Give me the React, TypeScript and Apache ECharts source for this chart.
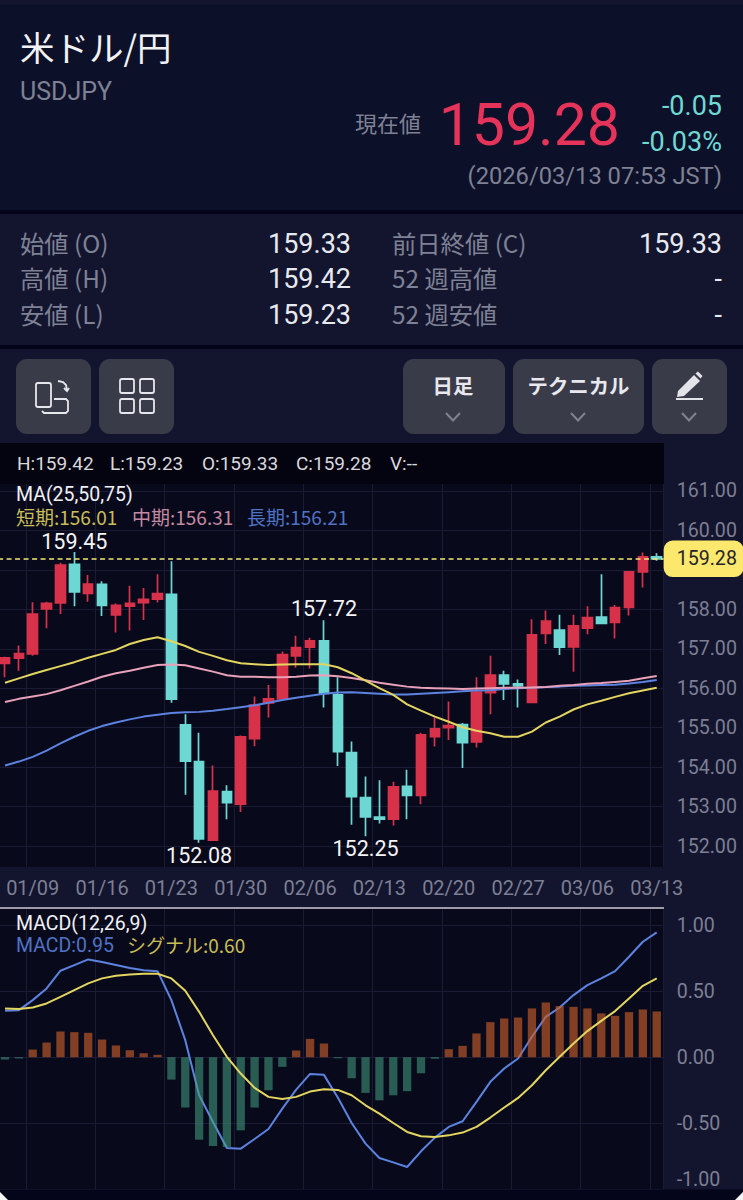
import React, { useEffect, useRef } from "react";
import * as echarts from "echarts";

const dates = ["01/07","01/08","01/09","01/12","01/13","01/14","01/15","01/16","01/19","01/20","01/21","01/22","01/23","01/26","01/27","01/28","01/29","01/30","02/02","02/03","02/04","02/05","02/06","02/09","02/10","02/11","02/12","02/13","02/16","02/17","02/18","02/19","02/20","02/23","02/24","02/25","02/26","02/27","03/02","03/03","03/04","03/05","03/06","03/09","03/10","03/11","03/12","03/13"];
const shownDates = ["01/09","01/16","01/23","01/30","02/06","02/13","02/20","02/27","03/06","03/13"];
// [open, close, low, high]
const candles = [
  [156.63,156.77,156.28,156.80],[156.76,156.88,156.44,157.08],[156.87,157.88,156.82,158.18],[158.01,158.15,157.52,158.19],
  [158.16,159.12,157.88,159.18],[159.14,158.44,158.08,159.45],[158.40,158.64,158.19,158.87],[158.63,158.10,157.83,158.71],
  [157.86,158.10,157.41,158.15],[158.08,158.15,157.46,158.60],[158.17,158.25,157.73,158.54],[158.26,158.40,158.17,158.89],
  [158.38,155.72,155.63,159.22],[155.07,154.15,153.30,155.34],[154.14,152.18,152.08,154.87],[152.15,153.39,152.15,154.04],
  [153.38,153.10,152.68,153.54],[153.06,154.77,152.86,154.80],[154.72,155.57,154.53,155.79],[155.63,155.73,155.26,156.08],
  [155.73,156.85,155.72,156.93],[156.82,157.03,156.52,157.33],[157.04,157.20,156.50,157.28],[157.20,155.87,155.51,157.72],
  [155.83,154.39,154.03,156.28],[154.37,153.25,152.54,154.65],[153.23,152.74,152.25,153.76],[152.73,152.68,152.57,153.67],
  [152.68,153.50,152.52,153.63],[153.51,153.28,152.68,153.93],[153.28,154.82,153.06,154.87],[154.77,154.97,154.52,155.26],
  [155.00,155.05,154.69,155.66],[155.08,154.62,153.98,155.12],[154.64,155.90,154.50,156.28],[155.89,156.33,155.34,156.82],
  [156.33,156.11,155.70,156.44],[156.11,156.06,155.51,156.22],[155.64,157.35,155.62,157.75],[157.39,157.70,157.12,157.97],
  [157.47,157.04,156.84,157.86],[157.05,157.58,156.42,157.86],[157.52,157.79,157.37,158.08],[157.80,157.64,157.62,158.89],
  [157.67,158.04,157.26,158.11],[158.05,158.95,157.84,158.97],[158.95,159.33,158.55,159.44],[159.33,159.28,159.23,159.42],
];
const maShort = [156.14,156.25,156.36,156.46,156.56,156.66,156.77,156.87,156.97,157.12,157.22,157.29,157.19,157.07,156.92,156.82,156.71,156.63,156.61,156.59,156.60,156.61,156.61,156.61,156.53,156.38,156.19,156.00,155.83,155.59,155.43,155.28,155.15,155.01,154.92,154.86,154.77,154.77,154.90,155.13,155.28,155.46,155.59,155.68,155.78,155.87,155.94,156.01];
const maMid = [155.65,155.73,155.79,155.85,155.95,156.06,156.17,156.29,156.38,156.44,156.52,156.59,156.60,156.58,156.50,156.42,156.33,156.29,156.29,156.28,156.28,156.29,156.32,156.33,156.30,156.26,156.20,156.14,156.09,156.04,156.01,156.00,155.99,155.98,155.99,156.00,156.01,156.01,156.02,156.03,156.06,156.08,156.11,156.13,156.16,156.19,156.25,156.31];
const maLong = [154.04,154.14,154.26,154.42,154.60,154.77,154.92,155.04,155.13,155.21,155.28,155.33,155.37,155.39,155.40,155.43,155.47,155.52,155.57,155.63,155.70,155.76,155.81,155.86,155.89,155.90,155.88,155.86,155.84,155.84,155.86,155.88,155.90,155.92,155.94,155.95,155.98,156.00,156.01,156.03,156.04,156.06,156.07,156.08,156.09,156.12,156.16,156.21];
const macdLine = [.352,.357,.433,.522,.656,.699,.742,.722,.699,.676,.659,.653,.433,.129,-.289,-.491,-.689,-.694,-.621,-.545,-.390,-.246,-.127,-.134,-.306,-.499,-.656,-.765,-.798,-.833,-.714,-.610,-.529,-.486,-.339,-.187,-.086,-.010,.155,.306,.377,.471,.547,.598,.653,.762,.876,.947];
const signalLine = [.370,.365,.377,.408,.458,.509,.560,.598,.618,.628,.633,.633,.598,.504,.344,.167,.003,-.124,-.233,-.301,-.317,-.301,-.261,-.243,-.248,-.289,-.365,-.428,-.499,-.567,-.600,-.605,-.593,-.572,-.529,-.458,-.382,-.309,-.213,-.099,.003,.104,.198,.276,.350,.446,.542,.598];
const histogram = [-.018,-.01,.058,.111,.195,.190,.185,.134,.089,.053,.030,.018,-.170,-.382,-.626,-.674,-.681,-.555,-.382,-.251,-.073,.051,.139,.104,-.008,-.160,-.271,-.327,-.289,-.258,-.122,-.012,.061,.086,.180,.266,.294,.301,.370,.415,.388,.382,.370,.332,.314,.342,.362,.347];
const priceTicks = [152,153,154,155,156,157,158,159,160,161];
const priceLabels = [152,153,154,155,156,157,158,160,161];
const macdTicks = [-1,-0.5,0,0.5,1];
const lastPrice = 159.28;
const extremes: [string, number, "top" | "bottom", number][] = [
  ["01/14", 159.45, "top", 0],
  ["01/27", 152.08, "bottom", 2],
  ["02/09", 157.72, "top", 1],
  ["02/12", 152.25, "bottom", 2],
];

const FONT = "Roboto, 'Noto Sans CJK JP', sans-serif";
const CJK = "'Noto Sans CJK JP', Roboto, sans-serif";
const UP = "#d8324b";
const DOWN = "#6dd8d3";
const GRID = "#1a1c36";
const AXIS_TEXT = "#7d7f92";
// The plot starts just outside the page's left edge, so the chart's canvas reaches further left.
const BLEED = 10;

function t(x: number, y: number, text: string, size: number, fill: string, align = "left", family = FONT, weight: any = 400) {
  return { type: "text", x, y, z: 100, silent: true, style: { text, fontSize: size, fontFamily: family, fontWeight: weight, fill, align, verticalAlign: "middle" } };
}
function r(x: number, y: number, width: number, height: number, fill: string, radius = 0, z = -10) {
  return { type: "rect", z, silent: true, shape: { x, y, width, height, r: radius }, style: { fill } };
}
function outline(x: number, y: number, width: number, height: number, radius = 2) {
  return { type: "rect", z: 100, silent: true, shape: { x, y, width, height, r: radius }, style: { fill: "none", stroke: "#e6e6ec", lineWidth: 1.8 } };
}
function pl(points: number[][], stroke: string, lineWidth = 2) {
  return { type: "polyline", z: 100, silent: true, shape: { points }, style: { fill: "none", stroke, lineWidth } };
}

function buildGraphic() {
  const gray = "#7f8194";
  const white = "#e8e9ee";
  const chev = (cx: number) => pl([[cx - 7, 413], [cx, 420.5], [cx + 7, 413]], "#80828e", 2);
  return [
    r(-BLEED, 0, 743 + BLEED, 1200, "#13152f", 0, -20),
    r(0, 5, 743, 205, "#0d1029"),
    r(0, 210, 743, 4, "#03041a"),
    r(0, 345, 743, 4, "#03041a"),
    r(0, 443, 664, 41, "#03040f"),
    r(0, 907, 664, 2, "#9c9ca8", 0, 50),
    r(0, 1189.5, 743, 10.5, "#04051a", 0, 60),
    { type: "polygon", z: 61, silent: true, shape: { points: [[0, 1192], [0, 1200], [8, 1200]] }, style: { fill: "#f4f4f4" } },
    { type: "polygon", z: 61, silent: true, shape: { points: [[743, 1192], [743, 1200], [735, 1200]] }, style: { fill: "#f4f4f4" } },

    t(20, 45.5, "米ドル/円", 34.5, "#f2f2f4", "left", CJK),
    t(20, 91, "USDJPY", 25, gray),
    t(421, 122, "現在値", 22, gray, "right", CJK),
    t(620, 124, "159.28", 59, "#e5335a", "right"),
    t(722, 106, "-0.05", 27, "#6fd8d3", "right"),
    t(722, 142, "-0.03%", 27, "#6fd8d3", "right"),
    t(722, 176, "(2026/03/13 07:53 JST)", 23.7, gray, "right"),

    t(20, 242.5, "始値 (O)", 24.3, gray, "left", CJK),
    t(20, 277.5, "高値 (H)", 24.3, gray, "left", CJK),
    t(20, 313.5, "安値 (L)", 24.3, gray, "left", CJK),
    t(351, 244, "159.33", 27, white, "right"),
    t(351, 279, "159.42", 27, white, "right"),
    t(351, 315, "159.23", 27, white, "right"),
    t(392, 242.5, "前日終値 (C)", 24.3, gray, "left", CJK),
    t(392, 277.5, "52 週高値", 24.3, gray, "left", CJK),
    t(392, 313.5, "52 週安値", 24.3, gray, "left", CJK),
    t(722, 244, "159.33", 27, white, "right"),
    t(722, 279, "-", 27, white, "right"),
    t(722, 315, "-", 27, white, "right"),

    r(16, 359, 75, 75, "#3a3b49", 11),
    r(99, 359, 75, 75, "#3a3b49", 11),
    r(403, 359, 102, 75, "#3a3b49", 11),
    r(513, 359, 131, 75, "#3a3b49", 11),
    r(652, 359, 75, 75, "#3a3b49", 11),
    outline(36, 383, 15, 24),
    pl([[54, 399], [66, 399], [68, 401], [68, 411], [66, 413], [44, 413], [42, 411]], "#e6e6ec", 1.8),
    pl([[58, 381], [63, 382], [66, 385], [67, 390]], "#e6e6ec", 1.8),
    pl([[64, 388], [67, 391], [69, 388]], "#e6e6ec", 1.8),
    outline(120, 379, 14, 14),
    outline(140, 379, 14, 14),
    outline(120, 399, 14, 14),
    outline(140, 399, 14, 14),
    t(453, 385, "日足", 20.4, "#e8e8ee", "center", CJK, 600),
    t(578.5, 385, "テクニカル", 20.4, "#e8e8ee", "center", CJK, 600),
    { type: "polygon", z: 100, silent: true, shape: { points: [[678, 391], [694, 375], [700, 381], [684, 396], [677, 397]] }, style: { fill: "#e3e3ea" } },
    { type: "polygon", z: 100, silent: true, shape: { points: [[695.5, 373.5], [698, 371.5], [702.5, 376], [700.5, 378.5]] }, style: { fill: "#e3e3ea" } },
    r(676, 398, 27, 2, "#e3e3ea", 0, 100),
    chev(453),
    chev(578),
    chev(689),

    t(17, 463, "H:159.42", 19, "#d8d8de"),
    t(110, 463, "L:159.23", 19, "#d8d8de"),
    t(202, 463, "O:159.33", 19, "#d8d8de"),
    t(296, 463, "C:159.28", 19, "#d8d8de"),
    t(390, 463, "V:--", 19, "#d8d8de"),

    t(16, 494, "MA(25,50,75)", 19.5, "#f0f0f4"),
    t(16, 516.5, "短期:156.01", 19, "#c9bd58", "left", CJK),
    t(132, 516.5, "中期:156.31", 19, "#c48aa2", "left", CJK),
    t(247, 516.5, "長期:156.21", 19, "#4f72c4", "left", CJK),
    t(16, 923, "MACD(12,26,9)", 19.5, "#f0f0f4"),
    t(16, 945, "MACD:0.95", 19.5, "#4f72c4"),
    t(127, 944, "シグナル:0.60", 19, "#c9bd58", "left", CJK),
  ];
}

export default function App() {
  const ref = useRef<HTMLDivElement>(null);
  useEffect(() => {
    document.body.style.margin = "0";
    document.body.style.overflow = "hidden";
    const chart = echarts.init(ref.current!, undefined, { renderer: "svg" });
    const left = BLEED - 1.93;
    const width = 665.6;
    const fmt = (v: number) => v.toFixed(2);
    const showDate = (_: number, v: string) => shownDates.includes(v);
    const extremeIndex = (d: string) => dates.indexOf(d);
    chart.setOption({
      animation: false,
      backgroundColor: "transparent",
      graphic: { elements: [{ type: "group", x: BLEED, y: 0, children: buildGraphic() }] },
      grid: [
        { left, width, top: 484, height: 383, show: true, backgroundColor: "#080a1b", borderWidth: 0 },
        { left, width, top: 908, height: 281, show: true, backgroundColor: "#080a1b", borderWidth: 0 },
      ],
      xAxis: [
        {
          type: "category", gridIndex: 0, data: dates, boundaryGap: true,
          axisLine: { show: false },
          axisTick: { show: false, alignWithLabel: true, interval: showDate },
          axisLabel: { interval: showDate, color: AXIS_TEXT, fontSize: 20, fontFamily: FONT, margin: 11, hideOverlap: false },
          splitLine: { show: true, interval: showDate, lineStyle: { color: GRID, width: 1 } },
        },
        {
          type: "category", gridIndex: 1, data: dates, boundaryGap: true,
          axisLine: { show: false },
          axisTick: { show: false, alignWithLabel: true, interval: showDate },
          axisLabel: { show: false },
          splitLine: { show: true, interval: showDate, lineStyle: { color: GRID, width: 1 } },
        },
      ],
      yAxis: [
        {
          type: "value", gridIndex: 0, position: "right", min: 151.468, max: 161.176, scale: true,
          axisLine: { show: false },
          axisTick: { show: false, customValues: priceTicks },
          axisLabel: { customValues: priceLabels, formatter: fmt, color: AXIS_TEXT, fontSize: 19.6, fontFamily: FONT, margin: 13 },
          splitLine: { show: true, lineStyle: { color: GRID, width: 1 } },
        },
        {
          type: "value", gridIndex: 1, position: "right", min: -1, max: 1.132,
          axisLine: { show: false },
          axisTick: { show: false, customValues: macdTicks },
          axisLabel: { customValues: macdTicks, formatter: fmt, color: AXIS_TEXT, fontSize: 19.6, fontFamily: FONT, margin: 13, verticalAlignMinLabel: "bottom" },
          splitLine: { show: true, lineStyle: { color: GRID, width: 1 } },
        },
      ],
      series: [
        {
          type: "candlestick", xAxisIndex: 0, yAxisIndex: 0, data: candles, barWidth: 10, z: 2,
          itemStyle: { color: UP, color0: DOWN, borderColor: UP, borderColor0: DOWN, borderWidth: 1.7 },
          markPoint: {
            symbol: "circle", symbolSize: 0, silent: true,
            label: { show: true, color: "#f4f4f6", fontSize: 21.5, fontFamily: FONT, formatter: (p: any) => p.value.toFixed(2) },
            data: extremes.map(([d, v, side, gap]) => ({ coord: [extremeIndex(d), v], value: v, label: { position: side, distance: gap } })),
          },
          markLine: {
            symbol: "none", silent: true, z: 6,
            lineStyle: { color: "#f2e874", type: [5, 3.5], width: 1.7 },
            label: {
              show: true, position: "end", distance: 0, formatter: () => lastPrice.toFixed(2),
              backgroundColor: "#fbe86c", color: "#24242a", fontSize: 19.6, fontFamily: FONT,
              padding: [9, 6.5, 8, 13], borderRadius: 9,
            },
            data: [{ yAxis: lastPrice }],
          },
        },
        { type: "line", name: "長期", xAxisIndex: 0, yAxisIndex: 0, data: maLong, showSymbol: false, z: 3, lineStyle: { color: "#5c83e0", width: 2 } },
        { type: "line", name: "中期", xAxisIndex: 0, yAxisIndex: 0, data: maMid, showSymbol: false, z: 3, lineStyle: { color: "#e9a0b9", width: 2 } },
        { type: "line", name: "短期", xAxisIndex: 0, yAxisIndex: 0, data: maShort, showSymbol: false, z: 3, lineStyle: { color: "#e3d560", width: 2 } },
        { type: "line", name: "MACD", xAxisIndex: 1, yAxisIndex: 1, data: macdLine, showSymbol: false, z: 3, lineStyle: { color: "#5c83e0", width: 2 } },
        {
          type: "bar", name: "hist", xAxisIndex: 1, yAxisIndex: 1, barWidth: 8.3, z: 4,
          data: histogram,
          itemStyle: { color: (p: any) => (p.value >= 0 ? "rgba(205,95,40,0.63)" : "rgba(70,160,130,0.55)") },
        },
        { type: "line", name: "signal", xAxisIndex: 1, yAxisIndex: 1, data: signalLine, showSymbol: false, z: 5, lineStyle: { color: "#e3d560", width: 2 } },
      ],
    });
    return () => chart.dispose();
  }, []);
  return <div ref={ref} style={{ width: 743 + BLEED, height: 1200, marginLeft: -BLEED }} />;
}
